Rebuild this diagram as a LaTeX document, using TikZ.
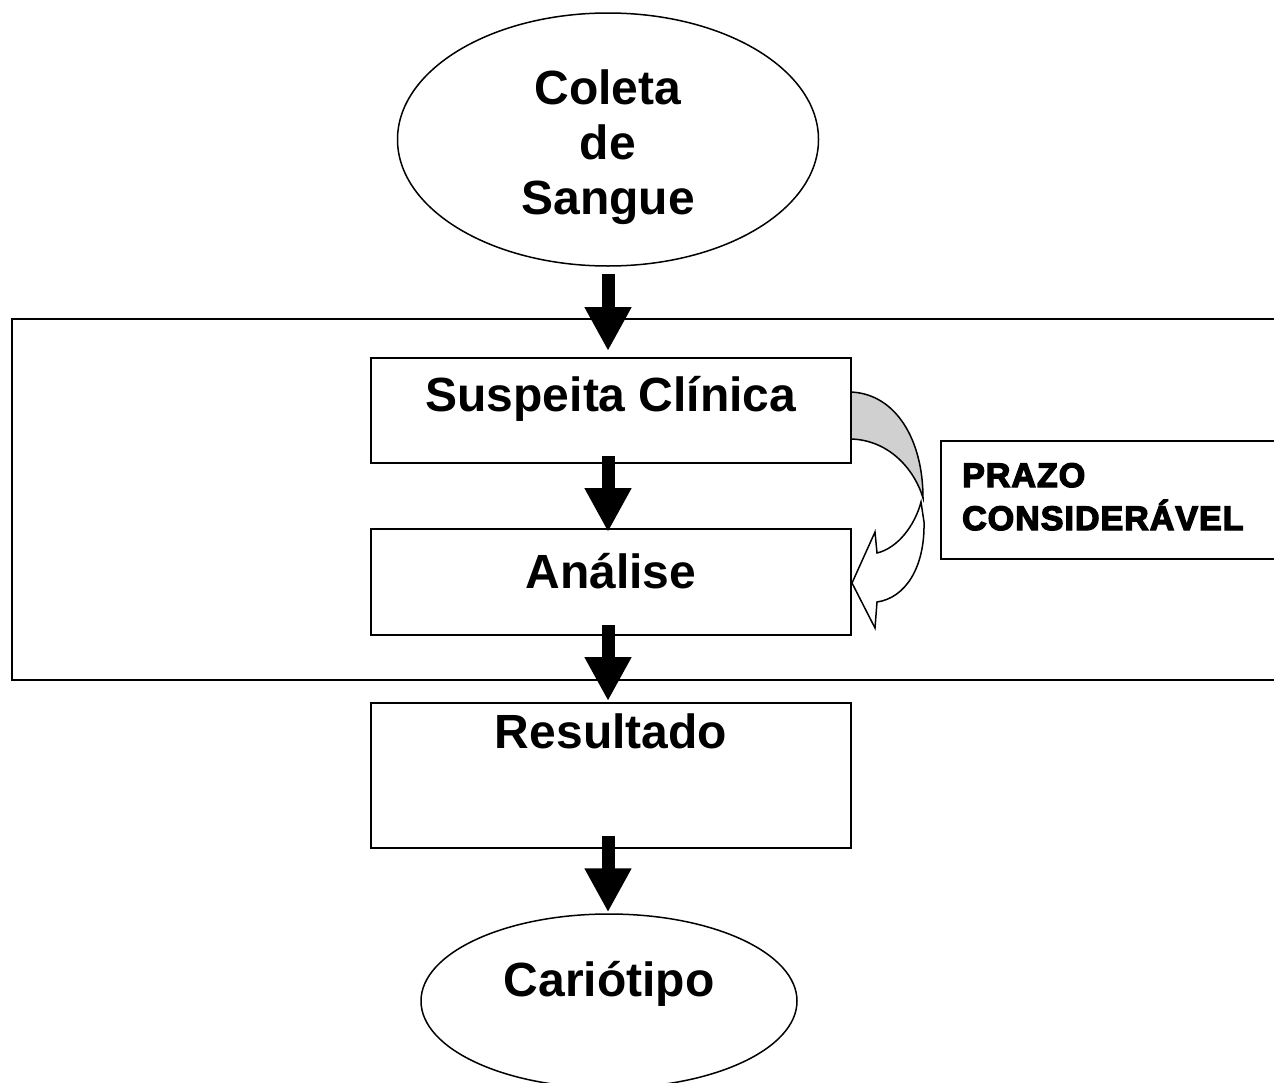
\documentclass[tikz,border=0pt]{standalone}
\usepackage{fontspec}
\setmainfont{Liberation Sans}
\newfontfamily\heavyfont[FakeBold=4,LetterSpace=3]{Liberation Sans Bold}
\usetikzlibrary{shapes.geometric,arrows.meta}
\definecolor{backgray}{RGB}{208,208,208}
\tikzset{
  etapa/.style={draw=black,line width=2pt,fill=white,rectangle,inner sep=0pt,minimum width=480pt},
  oval/.style={draw=black,line width=1.5pt,fill=white,ellipse,inner sep=0pt},
  rotulo/.style={font=\fontsize{48}{55}\selectfont\bfseries,align=center,inner sep=0pt},
  bloco/.style={line width=13pt,-{Triangle[width=44pt,length=44pt]}}
}
\begin{document}
\begin{tikzpicture}[x=1pt,y=1pt,yscale=-1,xscale=1]
        \useasboundingbox (0,0) rectangle (1274,1082);
        \clip (0,0) rectangle (1274,1082);

        %Shape: Rectangle [frame]
        \draw [line width=2pt] (12,319) rectangle (1290,680);

        %Shape: Ellipse [coleta]
        \node [oval,minimum width=421pt,minimum height=253pt] (coleta) at (608,139.5) {};
        \node [rotulo,anchor=base] (coletatxt) at (608,214) {Coleta\\de\\Sangue};

        %Shape: Rectangle [suspeita]
        \node [etapa,minimum height=105pt] (suspeita) at (611,410.5) {};
        \node [rotulo,anchor=base] (suspeitatxt) at (611,411) {Suspeita Clínica};

        %Shape: Rectangle [analise]
        \node [etapa,minimum height=106pt] (analise) at (611,582) {};
        \node [rotulo,anchor=base] (analisetxt) at (611,588) {Análise};

        %Shape: Rectangle [resultado]
        \node [etapa,minimum height=145pt] (resultado) at (611,775.5) {};
        \node [rotulo,anchor=base] (resultadotxt) at (611,748) {Resultado};

        %Shape: Ellipse [cariotipo]
        \node [oval,minimum width=376pt,minimum height=174pt] (cariotipo) at (609,1001) {};
        \node [rotulo,anchor=base] (cariotipotxt) at (609,996) {Cariótipo};

        %Shape: Curved Left Arrow [back]
        \draw [line width=1.5pt,fill=backgray] (851,392) .. controls (896,394) and (923,440) .. (923,498) .. controls (914,468) and (888,440) .. (851,439) -- cycle ;
        %Shape: Curved Left Arrow [front]
        \draw [line width=1.5pt,fill=white,line join=miter] (921,502) .. controls (915,525) and (898,548) .. (877,553) -- (875,532) -- (852,583) -- (875,628) -- (877,602) .. controls (905,598) and (925,568) .. (924,522) -- cycle ;

        %Shape: Rectangle [prazo]
        \node [draw=black,line width=2pt,fill=white,anchor=north west,inner sep=0pt,minimum width=350pt,minimum height=118pt] (prazo) at (940,440) {};
        \node [anchor=base west,align=left,inner sep=0pt,font=\heavyfont\bfseries\fontsize{34}{43}\selectfont] (prazotxt) at (962,530) {PRAZO\\CONSIDERÁVEL};

        %Block Arrows
        \draw [bloco,shorten <=7pt,shorten >=6pt] (coleta.south) -- (coleta.south |- suspeita.north) ;
        \draw [bloco,shorten <=-8pt,shorten >=-4pt] (suspeita.south -| coleta.south) -- (analise.north -| coleta.south) ;
        \draw [bloco,shorten <=-11pt,shorten >=1pt] (analise.south -| coleta.south) -- (resultado.north -| coleta.south) ;
        \draw [bloco,shorten <=-13pt,shorten >=1pt] (resultado.south -| coleta.south) -- (cariotipo.north -| coleta.south) ;

\end{tikzpicture}
\end{document}
